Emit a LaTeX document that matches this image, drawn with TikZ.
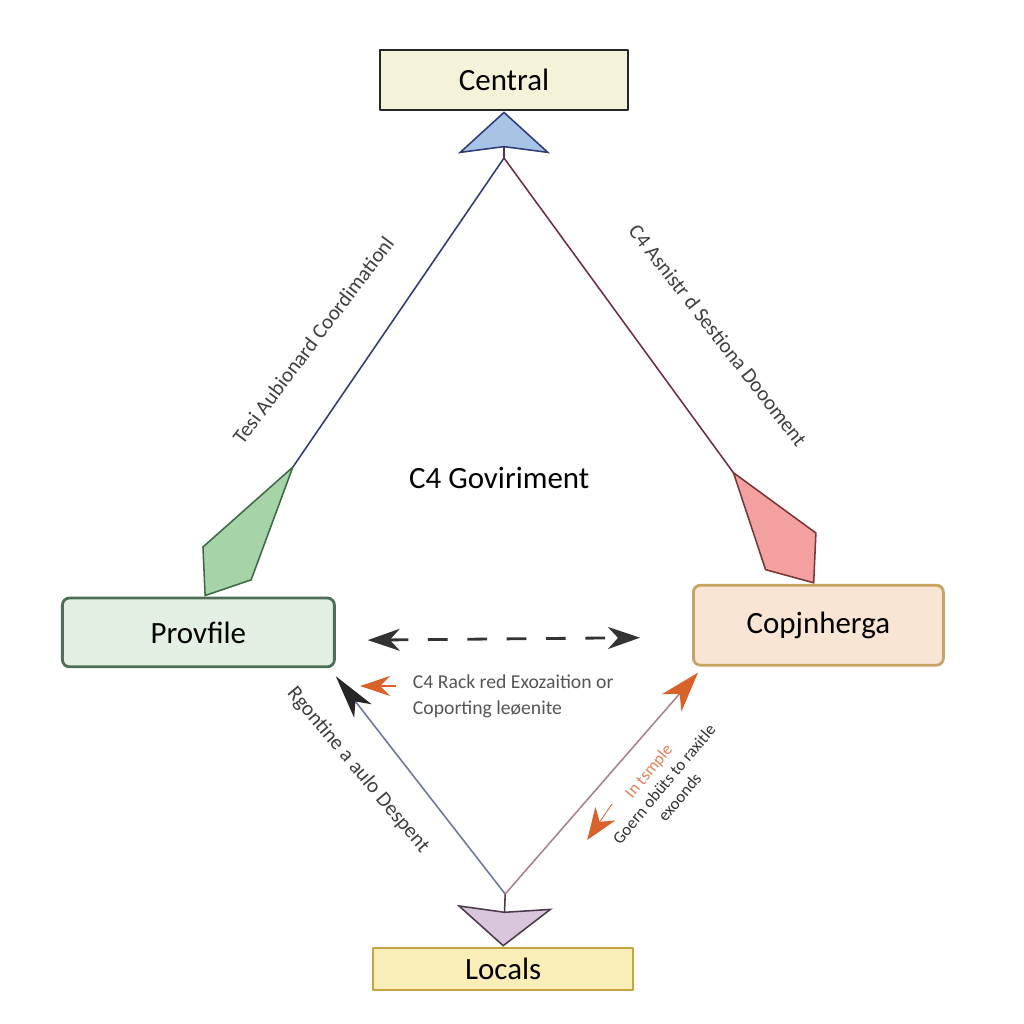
\documentclass[tikz,border=0pt]{standalone}
\usepackage{fontspec}
\setmainfont{Carlito}
\usepackage{xcolor}
\usetikzlibrary{arrows.meta,positioning}

\definecolor{centralfill}{HTML}{F4F2D8}
\definecolor{provfill}{HTML}{E3EFE3}
\definecolor{provline}{HTML}{4E6E57}
\definecolor{copfill}{HTML}{F8E5D3}
\definecolor{copline}{HTML}{C8A464}
\definecolor{localfill}{HTML}{F9EDB8}
\definecolor{localline}{HTML}{C9A542}
\definecolor{navyline}{HTML}{2E3A7A}
\definecolor{maroonline}{HTML}{6E2F3C}
\definecolor{bluehead}{HTML}{A8C4E4}
\definecolor{greenhead}{HTML}{A6D4A8}
\definecolor{greenedge}{HTML}{3F6A48}
\definecolor{pinkhead}{HTML}{F4A0A0}
\definecolor{pinkedge}{HTML}{7A3535}
\definecolor{purplehead}{HTML}{D9C6DC}
\definecolor{purpleedge}{HTML}{4A3A4A}
\definecolor{orangetip}{HTML}{D9622B}
\definecolor{notegray}{HTML}{555555}

\begin{document}
\begin{tikzpicture}[
    box/.style={draw, line width=2pt, minimum height=1.5cm, font=\fontsize{22}{26}\selectfont, line join=round},
    sidelabel/.style={font=\fontsize{15}{18}\selectfont, text=black!75},
    thinline/.style={line width=1.1pt, line join=round}
  ]
    \fill[white] (0,0) rectangle (25.6,-25.6);
    \useasboundingbox (0,0) rectangle (25.6,-25.6);

    % Boxes
    \node[box, fill=centralfill, draw=black!85, minimum width=6.2cm] (central) at (12.6,-2.0) {Central};
    \node[box, fill=provfill, draw=provline, rounded corners=5pt, minimum width=6.8cm, minimum height=1.72cm] (prov) at (4.96,-15.81) {Provfile};
    \node[box, fill=copfill, draw=copline, rounded corners=5pt, minimum width=6.25cm, minimum height=2cm] (cop) at (20.46,-15.63) {Copjnherga};
    \node[box, fill=localfill, draw=localline, line width=1.6pt, minimum width=6.5cm, minimum height=1.05cm] (locals) at (12.58,-24.22) {Locals};

    \node[font=\fontsize{22}{26}\selectfont] (gov) at (12.48,-11.95) {C4 Goviriment};

    % Upper triangle
    \coordinate (hub) at (12.6,-3.95);
    \draw[thinline, purpleedge, -{Stealth[length=1.05cm, width=2.3cm, inset=0.15cm, color=navyline, fill=bluehead]}] (hub) -- (central.south);
    \draw[thinline, navyline, -{Kite[length=4cm, width=1.5cm, inset=3cm, color=greenedge, fill=greenhead]}] (hub) -- ([xshift=0.15cm]prov.north);
    \draw[thinline, maroonline, -{Kite[length=3.5cm, width=1.6cm, inset=2.5cm, color=pinkedge, fill=pinkhead]}] (hub) -- ([xshift=-0.1cm]cop.north);

    \node[sidelabel, rotate=53] (tesi) at (7.83,-8.5) {Tesi Aubionard Coordimationl};
    \node[sidelabel, rotate=-52] (asnistr) at (17.95,-8.38) {C4 Asnistr d Sestiona Doooment};

    % Dashed link
    \draw[line width=2pt, black!80, dash pattern=on 14pt off 14pt,
          {Stealth[length=0.8cm, width=0.55cm, inset=0.25cm]}-{Stealth[length=0.8cm, width=0.55cm, inset=0.25cm]},
          shorten <=0.8cm, shorten >=1.3cm]
        ([yshift=-0.2cm]prov.east) -- ([yshift=-0.3cm]cop.west);

    % Note
    \node[anchor=north west, align=left, font=\fontsize{14}{18.5}\selectfont, text=notegray] (note) at (10.2,-16.75) {C4 Rack red Exozaition or\\Coporting leøenite};
    \coordinate (notetail) at (9.9,-17.15);
    \coordinate (notetip) at (9.0,-17.15);
    \draw[line width=1pt, orangetip, -{Stealth[length=0.75cm, width=0.5cm, inset=0.25cm]}] (notetail) -- (notetip);

    % Lower triangle
    \coordinate (sink) at (12.63,-22.35);
    \draw[thinline, purpleedge, -{Stealth[length=1.0cm, width=2.4cm, inset=0.12cm, color=purpleedge, fill=purplehead]}] (sink) -- (locals.north);
    \draw[thinline, navyline!70, -{Stealth[length=1.1cm, width=0.55cm, inset=0.3cm, color=black!85, fill=black!85]}] (sink) -- ([yshift=-0.2cm]prov.south east);
    \draw[thinline, maroonline!60, -{Stealth[length=1.0cm, width=0.65cm, inset=0.3cm, color=orangetip, fill=orangetip]}] (sink) -- ([xshift=0.15cm, yshift=-0.15cm]cop.south west);

    \coordinate (smalltail) at (15.3,-20.1);
    \coordinate (smalltip) at (14.68,-21.0);
    \draw[line width=0.6pt, orangetip, -{Stealth[length=0.8cm, width=0.6cm, inset=0.25cm]}] (smalltail) -- (smalltip);

    \node[sidelabel, rotate=-50] (rgon) at (8.95,-19.25) {Rgontine a aulo Despent};
    \node[font=\fontsize{12}{14.5}\selectfont, text=black!80, rotate=50, align=center] (goern) at (16.6,-19.6) {\textcolor{orangetip!80}{In tsmple}\\Goern obüts to raxitle\\exoonds};
\end{tikzpicture}
\end{document}
